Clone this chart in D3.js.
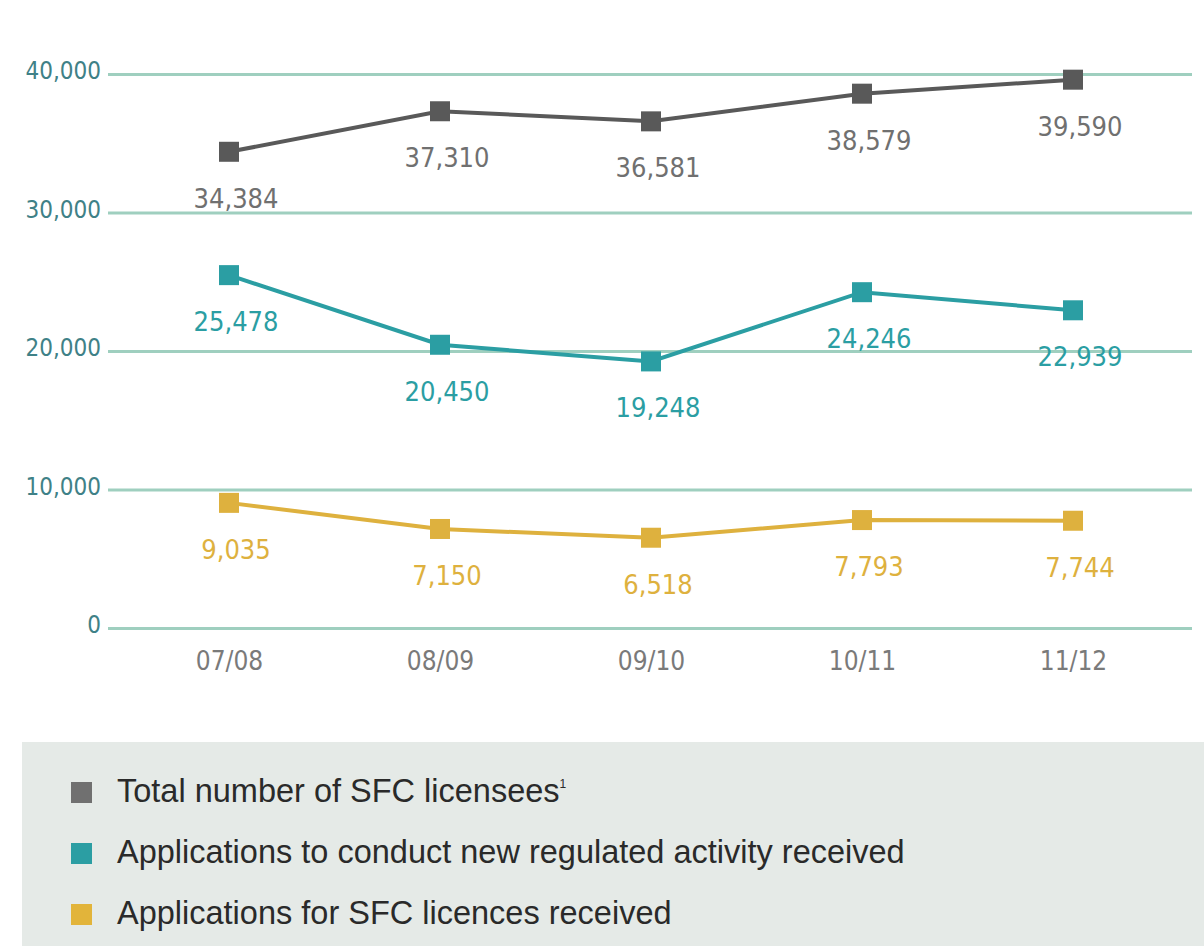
<!DOCTYPE html>
<html>
<head>
<meta charset="utf-8">
<script src="https://cdn.jsdelivr.net/npm/d3@7"></script>
<style>
  body { margin: 0; background: #fff; }
  .num { font-family: "DejaVu Sans Condensed", "DejaVu Sans", sans-serif; font-stretch: condensed; }
  .leg { font-family: "Liberation Sans", Arial, sans-serif; }
</style>
</head>
<body>
<svg id="chart"></svg>
<script>
const years = ["07/08", "08/09", "09/10", "10/11", "11/12"];
const licensees = [34384, 37310, 36581, 38579, 39590];
const newActivity = [25478, 20450, 19248, 24246, 22939];
const licenceApps = [9035, 7150, 6518, 7793, 7744];
const yTicks = [0, 10000, 20000, 30000, 40000];

const series = [
  { name: "Total number of SFC licensees", sup: "1", values: licensees, color: "#595959", text: "#707070", box: "#707070" },
  { name: "Applications to conduct new regulated activity received", values: newActivity, color: "#2b9ea3", text: "#2b9ea3", box: "#2b9ea3" },
  { name: "Applications for SFC licences received", values: licenceApps, color: "#deb13e", text: "#deb13e", box: "#e2b43a" }
];

const W = 1204, H = 946;
const svg = d3.select("#chart").attr("width", W).attr("height", H);

const x = d3.scalePoint().domain(years).range([229, 1073]);
const y = d3.scaleLinear().domain([0, 40000]).range([628, 74]);

// grid lines + y labels
const yAxis = svg.append("g")
  .attr("transform", "translate(108,0)")
  .call(d3.axisLeft(y).tickValues(yTicks).tickSize(-1084).tickPadding(7).tickFormat(d3.format(",")));
yAxis.select(".domain").remove();
yAxis.selectAll("line").attr("stroke", "#9fcfbf").attr("stroke-width", 3);
yAxis.selectAll("text").attr("class", "num").attr("fill", "#3f8187").style("font-size", "24px").attr("dy", "0.2em");

// x labels
const xAxis = svg.append("g")
  .attr("transform", "translate(0,628)")
  .call(d3.axisBottom(x).tickSize(0).tickPadding(20));
xAxis.select(".domain").remove();
xAxis.selectAll("text").attr("class", "num").attr("fill", "#7a7a7a").style("font-size", "26px").attr("dy", "0.85em");

const line = d3.line().x((d, i) => x(years[i])).y(d => y(d));

series.forEach(s => {
  svg.append("path").datum(s.values)
    .attr("d", line).attr("fill", "none")
    .attr("stroke", s.color).attr("stroke-width", 4);
  svg.selectAll(null).data(s.values).enter().append("rect")
    .attr("x", (d, i) => x(years[i]) - 10).attr("y", d => y(d) - 10)
    .attr("width", 20).attr("height", 20).attr("fill", s.color);
  svg.selectAll(null).data(s.values).enter().append("text")
    .attr("class", "num")
    .attr("x", (d, i) => x(years[i]) + 7).attr("y", d => y(d) + 56)
    .attr("text-anchor", "middle").attr("fill", s.text)
    .style("font-size", "27px")
    .text(d => d3.format(",")(d));
});

// legend
svg.append("rect").attr("x", 22).attr("y", 742).attr("width", W - 22).attr("height", H - 742).attr("fill", "#e5eae7");
const leg = svg.selectAll(".lg").data(series).enter().append("g")
  .attr("transform", (d, i) => "translate(71," + (790 + i * 61) + ")");
leg.append("rect").attr("x", 0).attr("y", -8).attr("width", 21).attr("height", 21).attr("fill", d => d.box);
const lt = leg.append("text").attr("class", "leg").attr("x", 46).attr("y", 12)
  .attr("fill", "#2a2a2a").style("font-size", "32.5px").text(d => d.name);
lt.filter(d => d.sup).append("tspan").attr("dy", -14).style("font-size", "12px").text(d => d.sup);
</script>
</body>
</html>
